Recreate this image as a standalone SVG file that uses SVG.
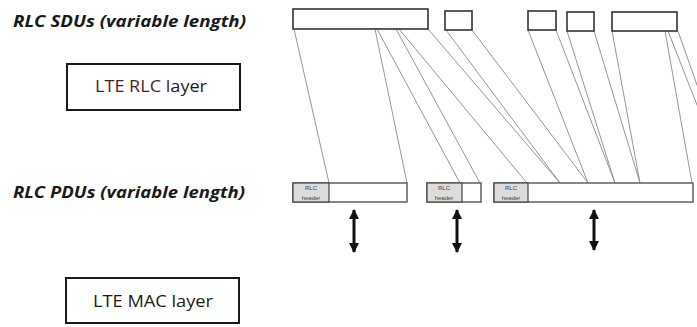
<svg xmlns="http://www.w3.org/2000/svg" width="697" height="327" viewBox="0 0 697 327">
<style>
.lbl{font-family:"Open Sans","Liberation Sans",sans-serif;font-weight:bold;font-style:italic;font-size:16px;fill:#1a1a1a}
.layer{font-family:"Open Sans","Liberation Sans",sans-serif;font-size:16px;font-weight:500;fill:#1a1a1a}
.lbox{fill:#fff;stroke:#1a1a1a;stroke-width:2}
.sdu{fill:#fff;stroke:#333;stroke-width:1.6}
.pdu{fill:#fff;stroke:#555;stroke-width:1.4}
.hdr{fill:#dcdcdc;stroke:#444;stroke-width:1.2}
.ht{font-family:"Liberation Sans",sans-serif;font-size:6px;fill:#444;text-anchor:middle}
.con line{stroke:#8a8a8a;stroke-width:0.9}
.arr{stroke:#111;stroke-width:3;marker-start:url(#ah);marker-end:url(#ah)}
</style>
<defs>
<marker id="ah" viewBox="0 0 10 10" refX="9" refY="5" markerWidth="3.4" markerHeight="3.4" orient="auto-start-reverse" markerUnits="strokeWidth">
<path d="M0,0 L10,5 L0,10 z" fill="#111"/>
</marker>
</defs>
<rect width="697" height="327" fill="#fff"/>

<g id="label-sdus"><text class="lbl" x="13" y="27" textLength="233" lengthAdjust="spacingAndGlyphs">RLC SDUs (variable length)</text></g>
<g id="label-pdus"><text class="lbl" x="13" y="198" textLength="232" lengthAdjust="spacingAndGlyphs">RLC PDUs (variable length)</text></g>

<g id="rlc-layer">
<rect class="lbox" x="67" y="64" width="173" height="46"/>
<text class="layer" x="95" y="92" textLength="112" lengthAdjust="spacingAndGlyphs"><tspan fill="#4f1e2a">LTE RLC l</tspan>ayer</text>
</g>
<g id="mac-layer">
<rect class="lbox" x="66" y="278" width="173" height="45"/>
<text class="layer" x="93" y="307" textLength="120" lengthAdjust="spacingAndGlyphs">LTE MAC layer</text>
</g>

<g class="con" id="connectors">
<line x1="294" y1="29" x2="329" y2="183"/>
<line x1="375" y1="29" x2="407" y2="183"/>
<line x1="377" y1="29" x2="460" y2="183"/>
<line x1="396" y1="29" x2="480" y2="183"/>
<line x1="399" y1="29" x2="527" y2="183"/>
<line x1="428" y1="29" x2="560" y2="183"/>
<line x1="446" y1="30" x2="560" y2="183"/>
<line x1="472" y1="30" x2="588" y2="183"/>
<line x1="528" y1="30" x2="588" y2="183"/>
<line x1="556" y1="30" x2="615" y2="183"/>
<line x1="567" y1="31" x2="615" y2="183"/>
<line x1="594" y1="31" x2="640" y2="183"/>
<line x1="612" y1="31" x2="640" y2="183"/>
<line x1="665" y1="31" x2="692" y2="183"/>
<line x1="668" y1="31" x2="708" y2="133"/>
<line x1="678" y1="31" x2="710" y2="122"/>
</g>

<g id="sdu1"><rect class="sdu" x="293" y="9" width="135" height="20"/></g>
<g id="sdu2"><rect class="sdu" x="445" y="11" width="27" height="19"/></g>
<g id="sdu3"><rect class="sdu" x="528" y="11" width="28" height="19"/></g>
<g id="sdu4"><rect class="sdu" x="567" y="12" width="27" height="19"/></g>
<g id="sdu5"><rect class="sdu" x="612" y="12" width="65" height="19"/></g>

<g id="pdu1">
<rect class="pdu" x="293" y="183" width="114" height="19"/>
<rect class="hdr" x="293" y="183" width="36" height="19"/>
<text class="ht" x="311" y="190">RLC</text>
<text class="ht" x="311" y="200">header</text>
</g>
<g id="pdu2">
<rect class="pdu" x="427" y="183" width="54" height="19"/>
<rect class="hdr" x="427" y="183" width="35" height="19"/>
<text class="ht" x="444" y="190" fill="#8a2030">RLC</text>
<text class="ht" x="444" y="200">header</text>
</g>
<g id="pdu3">
<rect class="pdu" x="494" y="183" width="199" height="19"/>
<rect class="hdr" x="494" y="183" width="34" height="19"/>
<text class="ht" x="511" y="190" fill="#8a2030">RLC</text>
<text class="ht" x="511" y="200">header</text>
</g>

<g id="arrows">
<line class="arr" x1="354" y1="210" x2="354" y2="252"/>
<line class="arr" x1="457" y1="210" x2="457" y2="252"/>
<line class="arr" x1="594" y1="210" x2="594" y2="250"/>
</g>
</svg>
